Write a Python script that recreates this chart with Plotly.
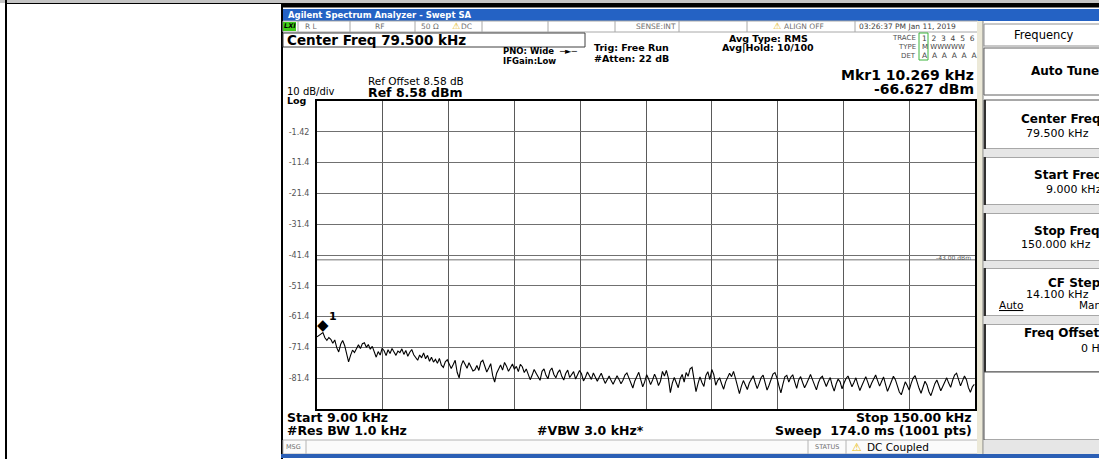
import plotly.graph_objects as go

# ---- sweep settings and measured trace ----
START_KHZ = 9.0
STOP_KHZ = 150.0
SWEEP_POINTS = 1001
DECIMATION = 3          # every 3rd sweep point is kept
REF_LEVEL = 8.58        # dBm, top graticule line
DB_PER_DIV = 10
DISPLAY_LINE = -43.0    # dBm
MARKER_KHZ = 10.269
MARKER_DBM = -66.627

LEVELS = [
    -68.0, -67.6, -67.2, -66.627, -68.3, -69.1, -68.2, -68.8, -70.1, -69.0, -71.5,
    -72.9, -70.4, -69.2, -70.8, -73.5, -76.1, -74.0, -72.3, -73.1, -71.9,
    -70.6, -71.8, -70.2, -69.9, -71.4, -70.5, -72.0, -71.1, -73.2, -74.6,
    -72.8, -73.9, -71.7, -72.5, -74.1, -72.2, -73.4, -71.8, -72.9, -74.0,
    -72.6, -73.1, -71.9, -73.7, -72.4, -74.3, -73.0, -72.1, -73.8, -74.9,
    -75.6, -73.9, -74.8, -73.2, -75.1, -74.0, -75.9, -74.6, -76.2, -75.3,
    -76.6, -75.0, -77.2, -77.9, -76.1, -75.4, -76.8, -78.3, -77.0, -75.6,
    -79.5, -81.3, -77.4, -75.7, -76.9, -78.2, -76.4, -77.6, -79.1, -78.7,
    -77.3, -78.9, -76.2, -75.6, -77.8, -79.4, -78.1, -76.7, -80.6, -82.7,
    -79.8, -78.2, -77.1, -78.8, -76.3, -77.5, -79.2, -78.0, -76.8, -78.5,
    -77.6, -79.3, -76.9, -77.7, -79.6, -78.4, -80.1, -81.9, -80.4, -78.6,
    -79.8, -80.9, -82.1, -79.2, -78.4, -80.5, -81.6, -79.0, -78.1, -80.2,
    -81.3, -79.6, -78.7, -80.8, -82.0, -79.9, -78.8, -81.2, -80.1, -79.3,
    -81.7, -80.4, -78.9, -80.0, -82.3, -81.1, -79.4, -80.6, -81.8, -79.7,
    -80.9, -82.4, -81.0, -79.8, -81.5, -83.1, -81.9, -80.7, -82.2, -83.4,
    -82.0, -80.6, -81.8, -83.2, -82.1, -80.4, -79.7, -81.5, -83.0, -84.6,
    -82.3, -80.8, -79.5, -81.9, -84.2, -82.6, -80.3, -81.7, -83.5, -82.0,
    -80.1, -81.6, -83.8, -82.4, -79.2, -80.7, -78.9, -81.4, -86.1, -83.0,
    -81.2, -82.9, -84.5, -81.6, -80.2, -82.7, -79.6, -80.8, -78.4, -77.9,
    -82.5, -85.8, -83.2, -81.0, -82.8, -84.1, -80.5, -79.3, -81.9, -78.6,
    -80.2, -83.7, -82.1, -81.4, -83.3, -85.0, -82.6, -81.3, -79.8, -80.9,
    -79.2, -81.5, -84.3, -86.4, -84.0, -82.2, -83.6, -85.1, -83.0, -81.7,
    -80.6, -82.9, -84.8, -83.1, -81.2, -80.4, -82.5, -85.3, -83.7, -81.8,
    -80.1, -79.6, -81.3, -83.9, -86.2, -83.4, -81.0, -80.5, -82.7, -81.1,
    -80.3, -82.6, -84.7, -82.0, -80.9, -82.8, -84.5, -83.2, -81.5, -80.2,
    -81.9, -83.6, -85.2, -82.9, -81.4, -80.8, -82.3, -84.1, -82.5, -81.2,
    -83.8, -85.6, -83.3, -81.7, -82.6, -84.9, -83.0, -81.5, -80.7, -82.4,
    -84.2, -82.8, -81.3, -83.5, -85.4, -83.9, -82.1, -80.9, -82.7, -84.6,
    -83.0, -81.6, -80.4, -82.2, -84.0, -82.5, -81.0, -83.4, -85.7, -84.1,
    -82.3, -80.8, -81.9, -83.7, -85.9, -86.8, -84.2, -82.6, -83.8, -85.3,
    -83.1, -81.4, -80.6, -82.8, -84.7, -86.3, -84.0, -82.4, -83.6, -85.8,
    -87.1, -85.0, -83.2, -82.0, -83.9, -85.5, -84.1, -82.6, -81.3, -83.0,
    -84.4, -82.1, -80.4, -79.8, -81.6, -83.9, -82.3, -80.7, -81.9, -84.5,
    -86.0, -84.2, -83.4,
]

Y_TICK_TEXT = ["", "-1.42", "-11.4", "-21.4", "-31.4", "-41.4",
               "-51.4", "-61.4", "-71.4", "-81.4", ""]

step = (STOP_KHZ - START_KHZ) / (SWEEP_POINTS - 1)
freqs = [START_KHZ + step * DECIMATION * i for i in range(len(LEVELS))]
y_bottom = REF_LEVEL - 10 * DB_PER_DIV
y_ticks = [REF_LEVEL - DB_PER_DIV * k for k in range(11)]

# ---- page geometry helpers (pixel -> paper) ----
W, H = 1099, 459
FONT = "DejaVu Sans"
shapes, notes = [], []


def px(x):
    return x / W


def py(y):
    return 1 - y / H


def rect(x0, y0, x1, y1, fill=None, line=None, lw=1):
    shapes.append(dict(type="rect", xref="paper", yref="paper",
                       x0=px(x0), x1=px(x1), y0=py(y1), y1=py(y0),
                       fillcolor=fill or "rgba(0,0,0,0)",
                       line=dict(color=line or "rgba(0,0,0,0)", width=lw if line else 0),
                       layer="below"))


def seg(x0, y0, x1, y1, color="#000", lw=1):
    shapes.append(dict(type="line", xref="paper", yref="paper",
                       x0=px(x0), x1=px(x1), y0=py(y0), y1=py(y1),
                       line=dict(color=color, width=lw), layer="below"))


def text(x, y, s, size, anchor="left", color="#000", bold=False, family=FONT):
    notes.append(dict(xref="paper", yref="paper", x=px(x), y=py(y), text=s,
                      showarrow=False, xanchor=anchor, yanchor="middle",
                      borderpad=0,
                      font=dict(size=size, color=color, family=family,
                                weight="bold" if bold else "normal")))


# ---- outer table cell ----
rect(0, 0, W, 3, fill="#c4c4c4")
seg(5, 3.5, W, 3.5, "#000", 1)
rect(5, 0, 7, H, fill="#000")

# ---- instrument window frame ----
rect(281, 4, W, 7.5, fill="#000")
rect(281, 4, 283, H, fill="#000")
rect(283, 9, W, 21, fill="#2462c4")
text(287, 15, "Agilent Spectrum Analyzer - Swept SA", 8.5, color="#ffffff", bold=True)

# status row
rect(283, 21, 978, 32, fill="#ffffff", line="#a8a8a8")
for xd in [298, 350, 415, 482, 548, 615, 679, 747, 855]:
    seg(xd, 21, xd, 32, "#a8a8a8", 1)
rect(283, 22, 296, 31, fill="#3fcc1a")
text(289.5, 26.5, "<i>LXI</i>", 6.5, anchor="center", bold=True)
text(304, 26.5, "R L", 7.5, color="#707070")
text(380, 26.5, "RF", 7.5, anchor="center", color="#707070")
text(420, 26.5, "50 Ω", 7.5, color="#707070")
text(451, 26.5, "⚠", 9, color="#e0b000")
text(460, 26.5, "DC", 7.5, color="#707070")
text(677, 26.5, "SENSE:INT", 7.5, anchor="right", color="#707070")
text(772, 26.5, "⚠", 9, color="#e0b000")
text(783, 26.5, "ALIGN OFF", 7.5, color="#707070")
text(858, 26.5, "03:26:37 PM Jan 11, 2019", 7.5, color="#404040")

# header block
rect(283, 33, 585, 47, line="#404040", lw=1)
text(286, 40, "Center Freq 79.500 kHz", 13.5, bold=True)
text(502, 51, "PNO: Wide  ─►─", 8.5, bold=True)
text(502, 61, "IFGain:Low", 8.5, bold=True)
text(593, 47, "Trig: Free Run", 9.5, bold=True)
text(593, 58, "#Atten: 22 dB", 9.5, bold=True)
text(768, 38, "Avg Type: RMS", 9.5, anchor="center", bold=True)
text(768, 47, "Avg|Hold: 10/100", 9.5, anchor="center", bold=True)
text(917, 38, "TRACE", 7, anchor="right", color="#505050")
text(917, 47, "TYPE", 7, anchor="right", color="#505050")
text(917, 56, "DET", 7, anchor="right", color="#505050")
rect(919, 33, 928, 60, line="#3cb43c", lw=1)
text(921, 38, "1  2  3  4  5  6", 7.5, color="#404040")
text(921, 47, "M WWWWW", 7, color="#404040")
text(921, 56, "A  A  A  A  A  A", 7.5, color="#404040")
text(975, 74.5, "Mkr1 10.269 kHz", 14, anchor="right", bold=True)
text(975, 89, "-66.627 dBm", 14, anchor="right", bold=True)
text(367, 81, "Ref Offset 8.58 dB", 10.5)
text(367, 92, "Ref 8.58 dBm", 12.5, bold=True)
text(286, 91, "10 dB/div", 10)
text(286, 101, "Log", 9.5, bold=True)

# footer block
text(286, 417, "Start 9.00 kHz", 12.5, bold=True)
text(286, 430, "#Res BW 1.0 kHz", 12.5, bold=True)
text(590, 430, "#VBW 3.0 kHz*", 12.5, anchor="center", bold=True)
text(973, 417, "Stop 150.00 kHz", 12.5, anchor="right", bold=True)
text(973, 430, "Sweep  174.0 ms (1001 pts)", 12.5, anchor="right", bold=True)
rect(283, 440, 978, 454, fill="#fbfbfb", line="#b4b4b4")
for xd in [306, 808, 846]:
    seg(xd, 440, xd, 454, "#b4b4b4", 1)
text(285, 447, "MSG", 6.5, color="#707070")
text(827, 447, "STATUS", 6.5, anchor="center", color="#707070")
text(851, 447, "⚠", 11, color="#e8b800")
text(866, 447, "DC Coupled", 10.5)
rect(281, 454, W, 458, fill="#2b5fb5")

# soft-key panel
rect(977, 21, 983, 454, fill="#ece9d8")
seg(983, 21, 983, 454, "#808080", 1)
rect(984, 24, W + 2, 46, fill="#ffffff", line="#909090")
text(1013, 35, "Frequency", 11.5)
rect(984, 48, W + 2, 95, fill="#ffffff", line="#606060")
text(1030, 71, "Auto Tune", 12, bold=True)
keys = [
    (100, 149, [(1020, 119, "Center Freq", True), (1025, 133, "79.500 kHz", False)]),
    (157, 205, [(1033, 175, "Start Freq", True), (1045, 189, "9.000 kHz", False)]),
    (213, 261, [(1033, 231, "Stop Freq", True), (1020, 245, "150.000 kHz", False)]),
    (268, 316, [(1047, 283, "CF Step", True), (1025, 294, "14.100 kHz", False)]),
    (324, 372, [(1023, 333, "Freq Offset", True), (1080, 348, "0 Hz", False)]),
]
for top, bot, labels in keys:
    rect(984, top, W + 2, bot, fill="#ffffff", line="#505050")
    seg(985, top, 985, bot, "#303030", 2)
    for lx, ly, s, b in labels:
        text(lx, ly, s, 12 if b else 11, bold=b)
text(998, 305, "<u>Auto</u>", 10.5)
text(1078, 305, "Man", 10.5)
for top, bot in [(149, 157), (205, 213), (261, 268), (316, 324)]:
    rect(984, top, W + 2, bot, fill="#e6e6e6")
rect(984, 372, W + 2, 440, fill="#ffffff", line="#505050")
rect(984, 440, W + 2, 454, fill="#e6e6e6")

# ---- figure ----
fig = go.Figure()
fig.add_trace(go.Scatter(x=freqs, y=LEVELS, mode="lines",
                         line=dict(color="#000000", width=1.1),
                         hoverinfo="skip", showlegend=False))

# display line and its readout
shapes.append(dict(type="line", xref="x domain", yref="y", x0=0, x1=1,
                   y0=DISPLAY_LINE, y1=DISPLAY_LINE,
                   line=dict(color="#a0a0a0", width=1.5), layer="below"))
notes.append(dict(xref="x domain", yref="y", x=0.997, y=DISPLAY_LINE,
                  text=f"{DISPLAY_LINE:.2f} dBm", showarrow=False,
                  xanchor="right", yanchor="bottom", yshift=-3,
                  font=dict(size=6, color="#555555", family=FONT)))

# marker 1
notes.append(dict(xref="x", yref="y", x=MARKER_KHZ, y=MARKER_DBM, text="◆",
                  showarrow=False, xanchor="center", yanchor="bottom",
                  yshift=-2, borderpad=0,
                  font=dict(size=15, color="#000000", family=FONT)))
notes.append(dict(xref="x", yref="y", x=MARKER_KHZ, y=MARKER_DBM, text="1",
                  showarrow=False, xanchor="left", yanchor="middle",
                  xshift=5, yshift=16, borderpad=0,
                  font=dict(size=11, color="#000000", family=FONT, weight="bold")))

fig.update_layout(
    width=W, height=H,
    margin=dict(l=0, r=0, t=0, b=0),
    paper_bgcolor="#ffffff", plot_bgcolor="#ffffff",
    shapes=shapes, annotations=notes,
    showlegend=False,
    xaxis=dict(domain=[317 / W, 975 / W], range=[START_KHZ, STOP_KHZ],
               tick0=START_KHZ, dtick=(STOP_KHZ - START_KHZ) / 10,
               showticklabels=False, ticks="", showgrid=True,
               gridcolor="#5a5a5a", gridwidth=1, zeroline=False,
               showline=True, mirror=True, linecolor="#000000", linewidth=2),
    yaxis=dict(domain=[1 - 409 / H, 1 - 101 / H], range=[y_bottom, REF_LEVEL],
               tickmode="array", tickvals=y_ticks, ticktext=Y_TICK_TEXT,
               ticks="", ticklabelstandoff=4, showgrid=True,
               gridcolor="#707070", gridwidth=1, zeroline=False,
               tickfont=dict(size=8, color="#555555", family=FONT),
               showline=True, mirror=True, linecolor="#000000", linewidth=2),
)

fig.write_html("out.html")
